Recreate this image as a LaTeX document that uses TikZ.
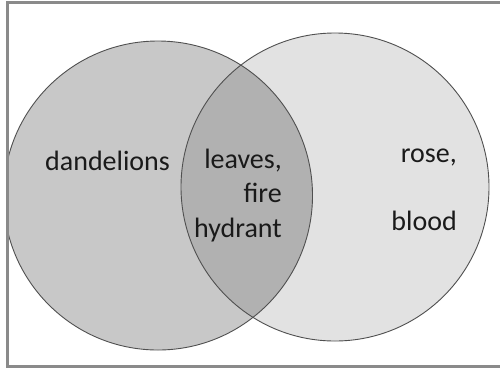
\documentclass[tikz,border=0pt]{standalone}
\usepackage{fontspec}
\setmainfont{Carlito}
\definecolor{leftfill}{HTML}{C8C8C8}
\definecolor{rightfill}{HTML}{E2E2E2}
\definecolor{lensfill}{HTML}{B1B1B1}
\definecolor{edge}{HTML}{505050}
\definecolor{framegray}{HTML}{8A8A8A}
\definecolor{ink}{HTML}{1A1A1A}
\begin{document}
\begin{tikzpicture}[x=1pt,y=-1pt,
  setcircle/.style={draw=edge,line width=0.9pt},
  label/.style={inner sep=0pt,text=ink,font=\fontsize{28}{34.5}\selectfont}]
\useasboundingbox (0,0) rectangle (500,368);
\fill[white] (0,0) rectangle (500,368);
\begin{scope}
  \clip (9,4) rectangle (500,365);
  \fill[rightfill] (335,187) circle (154);
  \fill[leftfill] (158,195.5) circle (154.5);
  \begin{scope}
    \clip (335,187) circle (154);
    \fill[lensfill] (158,195.5) circle (154.5);
  \end{scope}
  \draw[setcircle] (335,187) circle (154);
  \draw[setcircle] (158,195.5) circle (154.5);
\end{scope}
% frame: left, top and bottom sides only
\draw[framegray,line width=3pt] (500,2.5) -- (7.5,2.5) -- (7.5,366.5) -- (500,366.5);
% labels (a multi-line node sits on the baseline of its last line)
\node[label,anchor=base west] (dand) at (45,170) {dandelions};
\node[label,anchor=base east,align=right] (both) at (282,237) {leaves,\\fire\\hydrant};
\node[label,anchor=base east] (rose) at (457,162) {rose,};
\node[label,anchor=base east] (blood) at (457,230) {blood};
\end{tikzpicture}
\end{document}
